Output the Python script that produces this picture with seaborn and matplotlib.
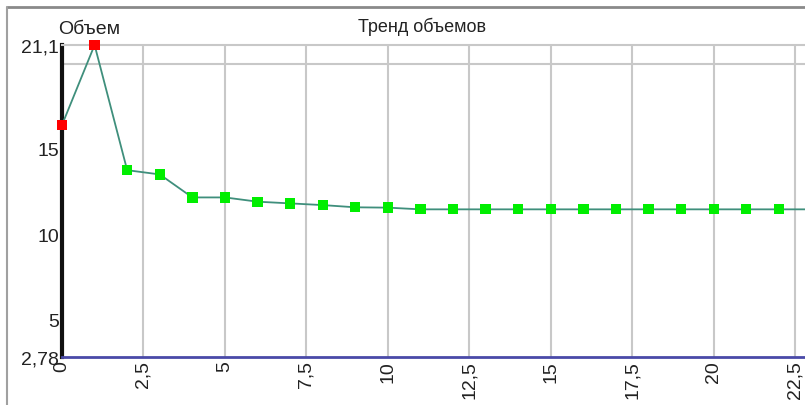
import matplotlib
matplotlib.use('Agg')
import matplotlib.pyplot as plt
import seaborn as sns
import pandas as pd
from matplotlib.lines import Line2D

# data
periods = list(range(0, 24))
volumes = [16.4, 21.1, 13.75, 13.5, 12.15, 12.15, 11.9, 11.8, 11.7, 11.57, 11.55, 11.45,
           11.45, 11.45, 11.45, 11.45, 11.45, 11.45, 11.45, 11.45, 11.45, 11.45, 11.45, 11.45]
point_kind = ['start', 'start'] + ['rest'] * 22
x_ticks = [0, 2.5, 5, 7.5, 10, 12.5, 15, 17.5, 20, 22.5]
x_labels = ['0', '2,5', '5', '7,5', '10', '12,5', '15', '17,5', '20', '22,5']
y_ticks = [2.78, 5, 10, 15, 21.1]
y_labels = ['2,78', '5', '10', '15', '21,1']
y_grid = [5, 10, 15, 20]

df = pd.DataFrame({'period': periods, 'volume': volumes, 'kind': point_kind})

sns.set_style('white')
plt.rcParams['font.family'] = ['Liberation Sans', 'DejaVu Sans']

fig = plt.figure(figsize=(8.05, 4.06), dpi=100)
ax = fig.add_axes([62/805, 48/406, 743/805, 312/406])

sns.lineplot(data=df, x='period', y='volume', color='#3f8f7c', linewidth=1.3, ax=ax, zorder=3)
sns.scatterplot(data=df, x='period', y='volume', hue='kind', palette={'start': '#ff0000', 'rest': '#00ee00'},
                marker='s', s=55, linewidth=0, legend=False, ax=ax, zorder=4)
for coll in ax.collections:
    coll.set_clip_on(False)

ax.set_xlim(0, 22.8)
ax.set_ylim(2.78, 21.1)
ax.set_xticks(x_ticks)
ax.set_xticklabels(x_labels, rotation=90, fontsize=14, color='#222222')
ax.set_yticks(y_ticks)
ax.set_yticklabels(y_labels, fontsize=14, color='#222222')
ax.set_yticks(y_grid, minor=True)
ax.tick_params(axis='both', which='both', length=0, pad=2)
ax.grid(True, axis='x', which='major', color='#c8c8c8', linewidth=1.5)
ax.grid(True, axis='y', which='minor', color='#c8c8c8', linewidth=1.5)
ax.set_xlabel('')
ax.set_ylabel('')

ax.spines['left'].set_color('#111111')
ax.spines['left'].set_linewidth(3)
ax.spines['bottom'].set_color('#4a4aa8')
ax.spines['bottom'].set_linewidth(2)
ax.spines['top'].set_color('#c8c8c8')
ax.spines['top'].set_linewidth(1.5)
ax.spines['right'].set_visible(False)

fig.text(422/805, 1 - 27/406, 'Тренд объемов', ha='center', va='center', fontsize=13, color='#222222')
fig.text(58/805, 1 - 30/406, 'Объем', ha='left', va='center', fontsize=14, color='#222222')

# window frame
fig.add_artist(Line2D([7/805, 1], [1 - 8/406, 1 - 8/406], color='#8a8a8a', linewidth=2))
fig.add_artist(Line2D([7/805, 7/805], [0, 1 - 8/406], color='#a0a0a0', linewidth=1.5))

fig.savefig('out.png', dpi=100)
